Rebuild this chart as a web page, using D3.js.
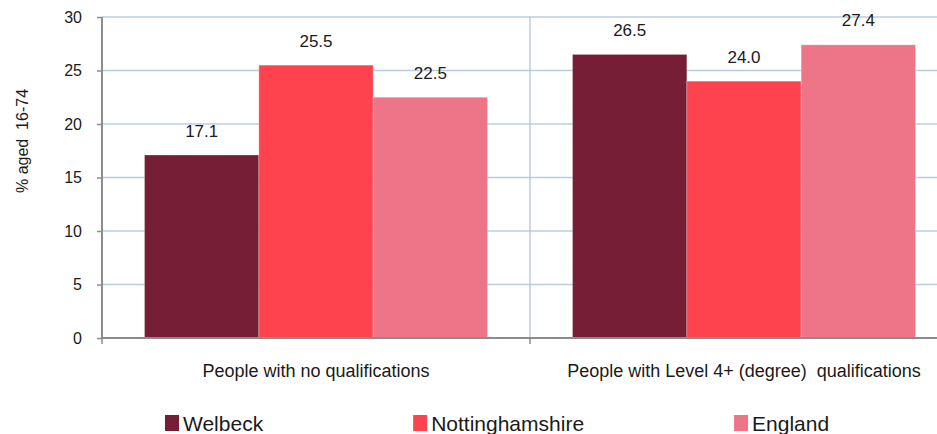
<!DOCTYPE html>
<html>
<head>
<meta charset="utf-8">
<script src="https://cdn.jsdelivr.net/npm/d3@7"></script>
<style>
  html, body { margin: 0; padding: 0; background: #fff; }
  svg { display: block; overflow: hidden; }
  text { font-family: "Liberation Sans", Arial, sans-serif; fill: #1a1a1a; }
</style>
</head>
<body>
<svg id="chart" width="937" height="434"></svg>
<script>
// Qualification levels, % of residents aged 16-74
const categories = ["People with no qualifications", "People with Level 4+ (degree)  qualifications"];
const seriesNames = ["Welbeck", "Nottinghamshire", "England"];
const welbeck = [17.1, 26.5];
const nottinghamshire = [25.5, 24.0];
const england = [22.5, 27.4];
const yTicks = [0, 5, 10, 15, 20, 25, 30];
const colors = ["#761e35", "#fe434e", "#ee7588"];

const seriesValues = [welbeck, nottinghamshire, england];
const rows = categories.map((c, i) => ({
  category: c,
  values: seriesNames.map((s, j) => ({ series: s, value: seriesValues[j][i], color: colors[j] }))
}));

const svg = d3.select("#chart");
const plot = { left: 102, right: 958, top: 17, bottom: 338 };

const y = d3.scaleLinear().domain([0, 30]).range([plot.bottom, plot.top]);
const x0 = d3.scaleBand().domain(categories).range([plot.left, plot.right]).paddingInner(0).paddingOuter(0);
const x1 = d3.scaleBand().domain(seriesNames).range([0, x0.bandwidth()]).paddingInner(0).paddingOuter(0.372);

// horizontal gridlines
svg.append("g")
  .selectAll("line")
  .data(yTicks.filter(t => t > 0))
  .join("line")
  .attr("x1", plot.left).attr("x2", plot.right)
  .attr("y1", d => y(d)).attr("y2", d => y(d))
  .attr("stroke", "#b8cce4").attr("stroke-width", 1.5);

// vertical divider between categories
svg.append("g")
  .selectAll("line")
  .data(categories.slice(1))
  .join("line")
  .attr("x1", d => x0(d)).attr("x2", d => x0(d))
  .attr("y1", plot.top).attr("y2", plot.bottom)
  .attr("stroke", "#b8cce4").attr("stroke-width", 1.5);

// bars
const groups = svg.append("g")
  .selectAll("g")
  .data(rows)
  .join("g")
  .attr("transform", d => `translate(${x0(d.category)},0)`);

groups.selectAll("rect")
  .data(d => d.values)
  .join("rect")
  .attr("x", d => x1(d.series))
  .attr("width", x1.bandwidth())
  .attr("y", d => y(d.value))
  .attr("height", d => y(0) - y(d.value))
  .attr("fill", d => d.color)
  .attr("stroke", "rgba(255,255,255,0.25)")
  .attr("stroke-width", 1);

// value labels
groups.selectAll("text")
  .data(d => d.values)
  .join("text")
  .attr("x", d => x1(d.series) + x1.bandwidth() / 2)
  .attr("y", d => y(d.value) - 18.5)
  .attr("text-anchor", "middle")
  .style("font-size", "17px")
  .text(d => d3.format(".1f")(d.value));

// y axis
const yAxis = svg.append("g")
  .attr("transform", `translate(${plot.left},0)`)
  .call(d3.axisLeft(y).tickValues(yTicks).tickSize(5).tickPadding(15).tickFormat(d3.format("d")));
yAxis.select(".domain").attr("stroke", "#8c8c8c").attr("stroke-width", 2).attr("d", `M0,${plot.top}V${plot.bottom + 1}`);
yAxis.selectAll(".tick line").attr("stroke", "#8c8c8c").attr("stroke-width", 1.5);
yAxis.selectAll(".tick text").style("font-size", "16px").attr("fill", "#1a1a1a").style("font-family", "\"Liberation Sans\", Arial, sans-serif");

// x axis
const xAxis = svg.append("g")
  .attr("transform", `translate(0,${plot.bottom})`);
xAxis.append("line")
  .attr("x1", plot.left).attr("x2", plot.right)
  .attr("y1", 0).attr("y2", 0)
  .attr("stroke", "#8c8c8c").attr("stroke-width", 2);
xAxis.selectAll("line.tick")
  .data(categories.concat([null]))
  .join("line")
  .attr("class", "tick")
  .attr("x1", (d, i) => i < categories.length ? x0(d) : plot.right)
  .attr("x2", (d, i) => i < categories.length ? x0(d) : plot.right)
  .attr("y1", 0).attr("y2", 6)
  .attr("stroke", "#8c8c8c").attr("stroke-width", 1.5);

// category labels
svg.append("g")
  .selectAll("text")
  .data(categories)
  .join("text")
  .attr("x", d => x0(d) + x0.bandwidth() / 2)
  .attr("y", 377)
  .attr("text-anchor", "middle")
  .style("font-size", "18px")
  .style("white-space", "pre")
  .text(d => d);

// y axis title
svg.append("text")
  .attr("transform", "translate(28,141) rotate(-90)")
  .attr("text-anchor", "middle")
  .style("font-size", "16px")
  .style("white-space", "pre")
  .text("% aged  16-74");

// legend
const legend = svg.append("g");
let lx = 165;
seriesNames.forEach((name, i) => {
  legend.append("rect")
    .attr("x", lx).attr("y", 415)
    .attr("width", 14).attr("height", 16)
    .attr("fill", colors[i]);
  const t = legend.append("text")
    .attr("x", lx + 18).attr("y", 431)
    .style("font-size", "21px")
    .text(name);
  lx = lx + 18 + t.node().getComputedTextLength() + 150;
});
</script>
</body>
</html>
